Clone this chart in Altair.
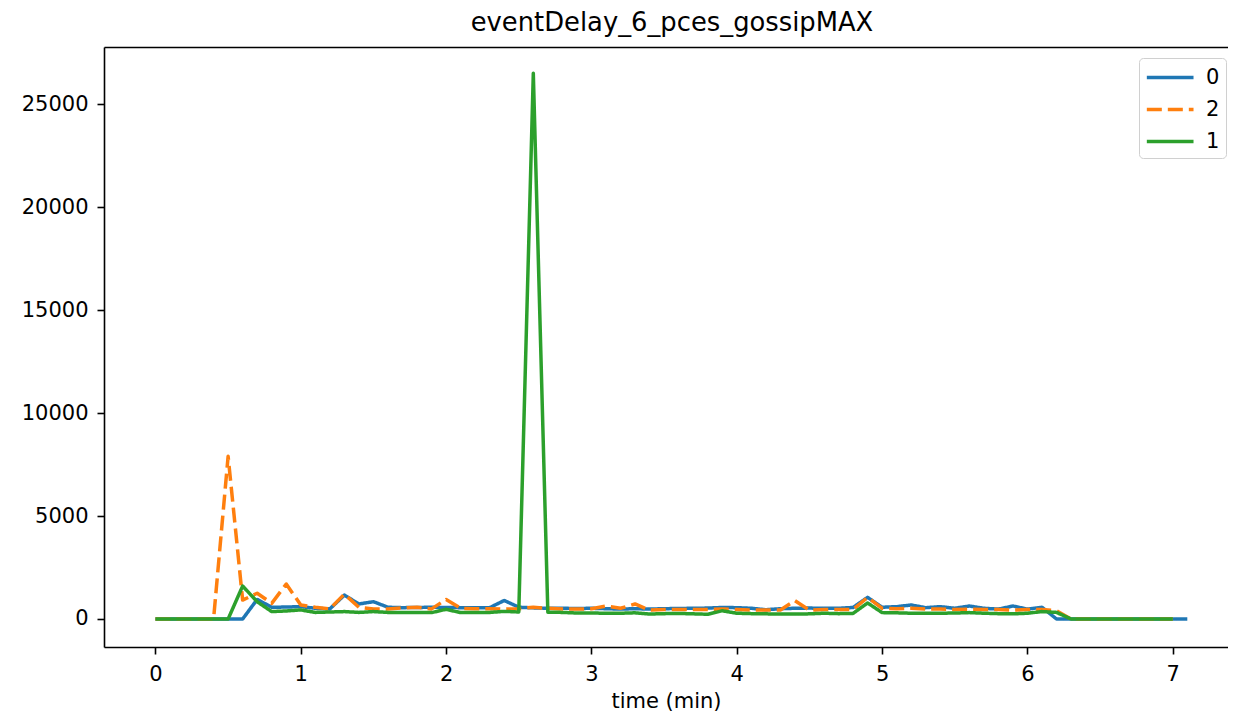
import altair as alt
import pandas as pd

# time (min) for each series
times_0 = [0.0, 0.1, 0.2, 0.3, 0.4, 0.5, 0.6, 0.7, 0.8, 0.9,
           1.0, 1.1, 1.2, 1.3, 1.4, 1.5, 1.6, 1.7, 1.8, 1.9,
           2.0, 2.1, 2.2, 2.3, 2.4, 2.5, 2.6, 2.7, 2.8, 2.9,
           3.0, 3.1, 3.2, 3.3, 3.4, 3.5, 3.6, 3.7, 3.8, 3.9,
           4.0, 4.1, 4.2, 4.3, 4.4, 4.5, 4.6, 4.7, 4.8, 4.9,
           5.0, 5.1, 5.2, 5.3, 5.4, 5.5, 5.6, 5.7, 5.8, 5.9,
           6.0, 6.1, 6.2, 6.3, 6.4, 6.5, 6.6, 6.7, 6.8, 6.9,
           7.0, 7.1]
times_2 = times_0[:71]
times_1 = times_0[:71]

values_0 = [0, 0, 0, 0, 0, 0, 0, 950, 570, 580,
            600, 520, 490, 1160, 730, 840, 570, 550, 560, 570,
            560, 550, 550, 550, 900, 570, 540, 520, 520, 510,
            520, 500, 480, 500, 480, 500, 510, 520, 530, 560,
            550, 520, 450, 500, 520, 530, 520, 520, 560, 1050,
            570, 600, 680, 550, 600, 520, 630, 520, 480, 630,
            480, 570, 0, 0, 0, 0, 0, 0, 0, 0,
            0, 0]
values_2 = [0, 0, 0, 0, 0, 7900, 920, 1250, 760, 1700,
            680, 570, 490, 1210, 570, 490, 490, 540, 570, 490,
            950, 520, 500, 500, 480, 500, 570, 520, 480, 480,
            500, 630, 520, 730, 430, 460, 460, 460, 460, 480,
            460, 440, 440, 440, 890, 430, 460, 460, 460, 1050,
            520, 500, 520, 480, 480, 460, 470, 460, 460, 430,
            460, 460, 400, 0, 0, 0, 0, 0, 0, 0,
            0]
values_1 = [0, 0, 0, 0, 0, 0, 1600, 840, 360, 390,
            440, 320, 340, 360, 320, 360, 320, 320, 320, 310,
            470, 310, 320, 320, 370, 340, 26500, 330, 320, 290,
            290, 280, 280, 300, 240, 260, 270, 250, 230, 400,
            280, 260, 250, 240, 240, 250, 280, 260, 270, 780,
            310, 300, 280, 280, 280, 290, 310, 280, 260, 250,
            280, 360, 320, 0, 0, 0, 0, 0, 0, 0,
            0]

series_names = ["0", "2", "1"]
series_colors = ["#1f77b4", "#ff7f0e", "#2ca02c"]
x_ticks = [0, 1, 2, 3, 4, 5, 6, 7]
y_ticks = [0, 5000, 10000, 15000, 20000, 25000]

rows = []
for name, ts, vs in [("0", times_0, values_0), ("2", times_2, values_2), ("1", times_1, values_1)]:
    for t, v in zip(ts, vs):
        rows.append({"t": t, "v": v, "s": name})
df = pd.DataFrame(rows)

W, H = 1124, 600
FONT = "DejaVu Sans"

xscale = alt.Scale(domain=[-0.354, 7.380], nice=False, zero=False)
yscale = alt.Scale(domain=[-1360, 27778], nice=False, zero=False)
color_scale = alt.Scale(domain=series_names, range=series_colors)
dash_scale = alt.Scale(domain=series_names, range=[[1, 0], [15, 6], [1, 0]])

x_axis = alt.Axis(values=x_ticks, format="d", title="time (min)", grid=False,
                  labelPadding=9, titlePadding=6)
y_axis = alt.Axis(values=y_ticks, format="d", title=None, grid=False, labelPadding=9)

legend = alt.Legend(title=None, orient="none", legendX=1035, legendY=11,
                    symbolType="M-1,0H3", symbolSize=545, symbolStrokeWidth=3.5,
                    labelFontSize=21, labelFont=FONT, labelColor="black",
                    labelOffset=34, strokeColor="#d0d0d0", fillColor="white",
                    cornerRadius=4, padding=6, rowPadding=8)


def line_layer(name, xa):
    return alt.Chart(df).transform_filter(alt.datum.s == name).mark_line(
        strokeWidth=3.5, strokeJoin="round"
    ).encode(
        x=alt.X("t:Q", scale=xscale, axis=xa),
        y=alt.Y("v:Q", scale=yscale, axis=y_axis),
        color=alt.Color("s:N", scale=color_scale, legend=legend),
        strokeDash=alt.StrokeDash("s:N", scale=dash_scale, legend=legend),
    )


top_axis = alt.Axis(orient="top", labels=False, ticks=False, title=None, grid=False)
top_layer = alt.Chart(df).transform_filter(alt.datum.s == "0").mark_line(opacity=0).encode(
    x=alt.X("t:Q", scale=xscale, axis=top_axis),
    y=alt.Y("v:Q", scale=yscale, axis=y_axis),
)

chart = alt.layer(
    line_layer("0", x_axis),
    line_layer("2", None),
    line_layer("1", None),
    top_layer,
).resolve_axis(x="independent").properties(
    width=W, height=H,
    title=alt.TitleParams("eventDelay_6_pces_gossipMAX", fontSize=25.8, font=FONT,
                          fontWeight="normal", color="black", offset=10, dx=6),
    padding={"left": 96, "top": 39, "right": 0, "bottom": 64},
    autosize=alt.AutoSizeParams(type="none"),
).configure_view(stroke=None).configure_axis(
    domainColor="black", domainWidth=1.6, tickColor="black", tickWidth=1.6,
    tickSize=7, labelFontSize=21, labelFont=FONT, labelColor="black",
    titleFontSize=21, titleFont=FONT, titleFontWeight="normal", titleColor="black",
)

chart.save("out.html", embed_options={"renderer": "svg", "actions": False})
